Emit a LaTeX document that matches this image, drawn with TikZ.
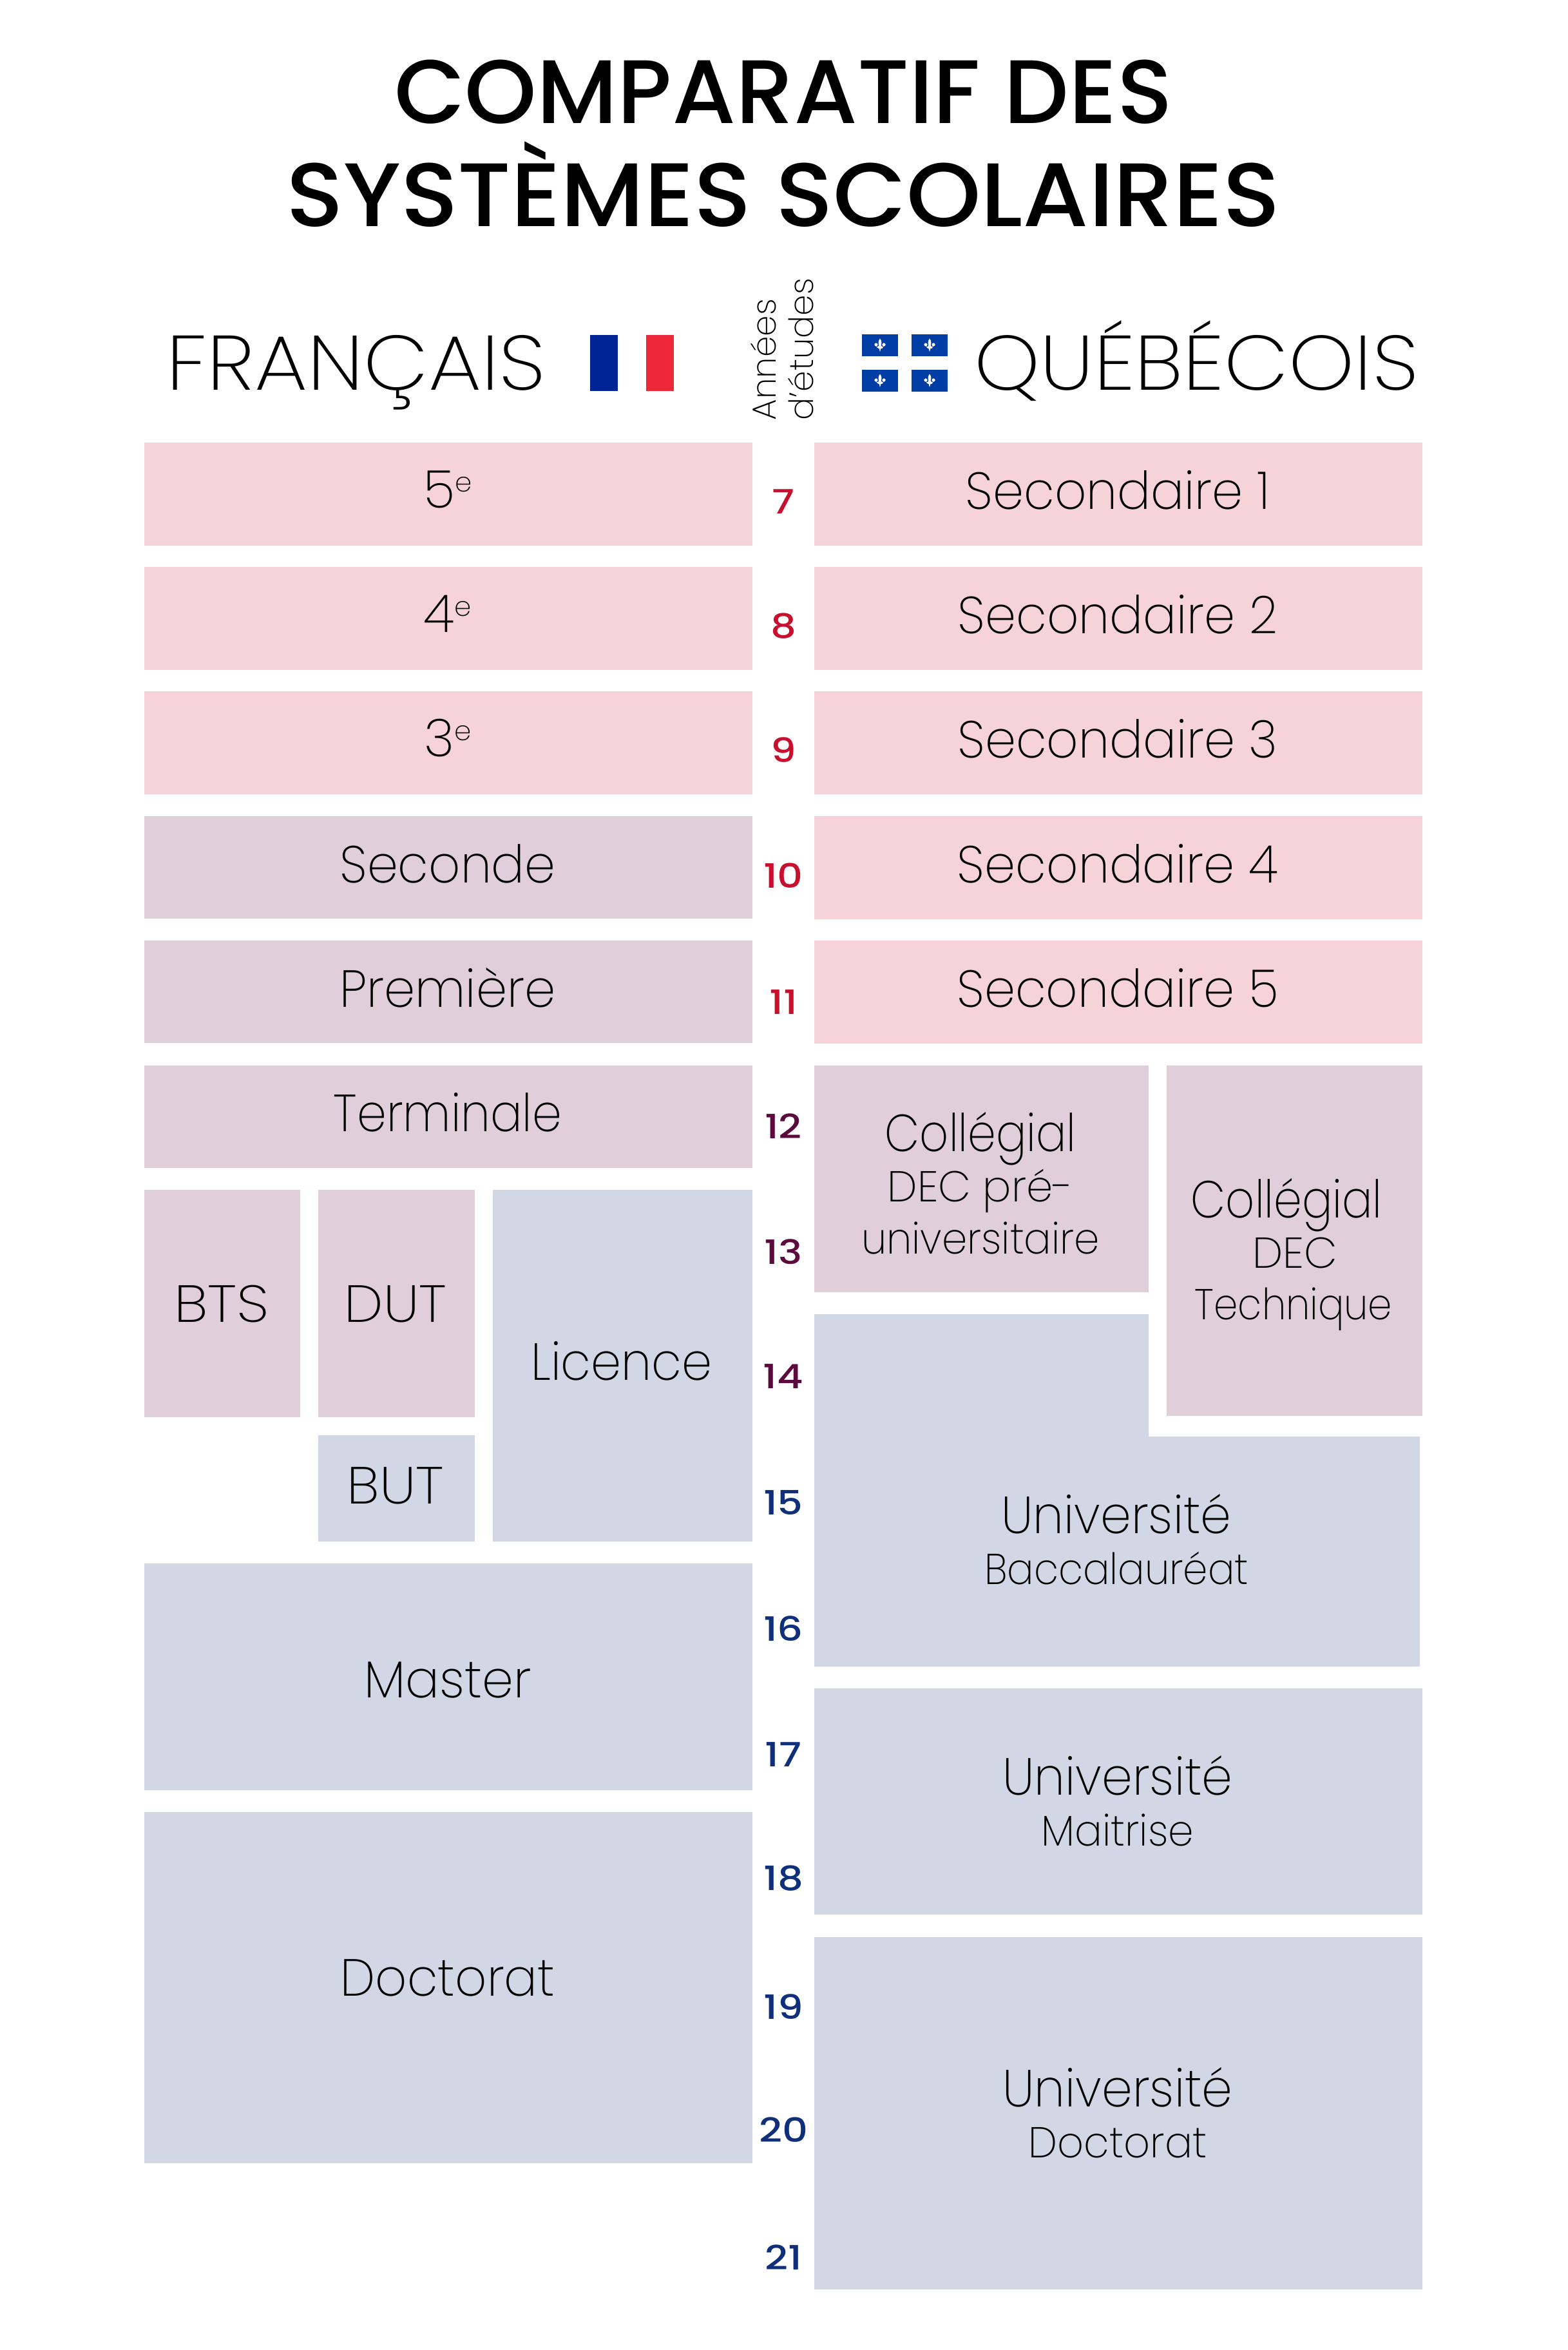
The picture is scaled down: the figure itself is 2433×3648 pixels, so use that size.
\documentclass[tikz,border=0pt]{standalone}
\usepackage{fontspec}
\setmainfont{Poppins}[UprightFont=* ExtraLight,BoldFont=* Medium]
\newfontfamily\numf{Poppins}[UprightFont=* Medium]
\definecolor{pinkbox}{HTML}{F5D3D8}
\definecolor{mauvebox}{HTML}{E0CFDB}
\definecolor{bluebox}{HTML}{D1D7E4}
\definecolor{numred}{HTML}{C8102E}
\definecolor{numplum}{HTML}{5C0A3E}
\definecolor{numnavy}{HTML}{0F2F7A}
\definecolor{frblue}{HTML}{002395}
\definecolor{frred}{HTML}{ED2939}
\definecolor{qcblue}{HTML}{003DA5}
\newcommand{\sz}[1]{\fontsize{#1}{#1}\selectfont}
\newcommand{\sxx}[2]{\scalebox{#1}[1]{#2}}
\newcommand{\sx}[2]{\scalebox{#1}[1]{#2}}
\newcommand{\supe}{\raisebox{25pt}{\sz{42}e}}
\tikzset{
  txt/.style={anchor=base,inner sep=0pt,outer sep=0pt,align=center},
  big/.style={txt,font=\sz{81}},
  small/.style={txt,font=\sz{67}},
  head/.style={txt,font=\sz{120}},
  ttl/.style={txt,font=\bfseries\sz{140}},
  yr/.style={txt,font=\numf\sz{52}},
  rot/.style={anchor=base west,rotate=90,inner sep=0pt,outer sep=0pt,font=\sz{52}}
}
\newcommand{\qcrect}[2]{%
  \fill[qcblue] (#1,#2) rectangle ++(55.5,33.5);
  \begin{scope}[shift={(#1+27.7,#2+16.7)}]
    \fill[white] (0,-10.5) .. controls (3.4,-6.5) and (2.6,-2) .. (1,2) -- (-1,2) .. controls (-2.6,-2) and (-3.4,-6.5) .. (0,-10.5) -- cycle;
    \fill[white] (-6,-1) circle (2.6);
    \fill[white] (6,-1) circle (2.6);
    \fill[white] (-6,1) .. controls (-4,3) and (-2,3) .. (-1.2,-2) -- (0,3.5) -- (1.2,-2) .. controls (2,3) and (4,3) .. (6,1) -- (4,4) -- (-4,4) -- cycle;
    \fill[white] (-3.5,3.5) rectangle (3.5,5.2);
    \fill[white] (-1.4,5) -- (1.4,5) -- (0,10) -- cycle;
  \end{scope}}
\begin{document}
\begin{tikzpicture}[x=1pt,y=-1pt]
\useasboundingbox (0,0) rectangle (2433,3648);
% title
\node[ttl] (t1) at (1216,191) {\sxx{1.015}{COMPARATIF DES}};
\node[ttl] (t2) at (1216,351) {\sxx{1.05}{SYSTÈMES SCOLAIRES}};
% headers
\node[head] (fr) at (553,605) {\sxx{1.09}{FRANÇAIS}};
\node[head] (qc) at (1857,605) {\sxx{1.08}{QUÉBÉCOIS}};
% flags
\fill[frblue] (916,520) rectangle (959,607);
\fill[frred] (1003,520) rectangle (1046,607);
\qcrect{1338.3}{519.3}
\qcrect{1415.3}{519.3}
\qcrect{1338.3}{574.3}
\qcrect{1415.3}{574.3}
\node[rot] (an) at (1204,652) {Années};
\node[rot] (et) at (1262,652) {d'études};
% left column boxes
\foreach \y in {687,880,1073} \fill[pinkbox] (224,\y) rectangle (1168,\y+160);
\foreach \y in {1267,1460,1654} \fill[mauvebox] (224,\y) rectangle (1168,\y+159);
\fill[mauvebox] (224,1847) rectangle (466,2200);
\fill[mauvebox] (494,1847) rectangle (737,2200);
\fill[bluebox] (494,2228) rectangle (737,2393);
\fill[bluebox] (765,1847) rectangle (1168,2393);
\fill[bluebox] (224,2427) rectangle (1168,2779);
\fill[bluebox] (224,2813) rectangle (1168,3358);
% right column boxes
\foreach \y in {687,880,1073,1267,1460} \fill[pinkbox] (1264,\y) rectangle (2208,\y+160);
\fill[mauvebox] (1264,1654) rectangle (1783,2006);
\fill[mauvebox] (1811,1654) rectangle (2208,2198);
\fill[bluebox] (1264,2040) -- (1783,2040) -- (1783,2230) -- (2204,2230) -- (2204,2587) -- (1264,2587) -- cycle;
\fill[bluebox] (1264,2621) rectangle (2208,2972);
\fill[bluebox] (1264,3007) rectangle (2208,3554);
% left labels
\node[big] (l5) at (695,788) {5\supe};
\node[big] (l4) at (695,981) {4\supe};
\node[big] (l3) at (695,1174) {3\supe};
\node[big] (lsec) at (695,1370) {\sx{.947}{Seconde}};
\node[big] (lpre) at (695,1563) {\sx{.954}{Première}};
\node[big] (lter) at (695,1756) {\sx{.906}{Terminale}};
\node[big] (lbts) at (344,2052) {\sx{1.12}{BTS}};
\node[big] (ldut) at (614,2052) {\sx{1.06}{DUT}};
\node[big] (lbut) at (614,2334) {\sx{1.08}{BUT}};
\node[big] (llic) at (965,2142) {\sx{.93}{Licence}};
\node[big] (lmas) at (695,2635) {\sx{.966}{Master}};
\node[big] (ldoc) at (695,3098) {\sx{.947}{Doctorat}};
% right labels
\node[big] (r1) at (1735,790) {\sx{.95}{Secondaire 1}};
\node[big] (r2) at (1735,983) {\sx{.95}{Secondaire 2}};
\node[big] (r3) at (1735,1176) {\sx{.95}{Secondaire 3}};
\node[big] (r4) at (1735,1370) {\sx{.95}{Secondaire 4}};
\node[big] (r5) at (1735,1563) {\sx{.95}{Secondaire 5}};
\node[big] (c1) at (1522,1787) {\sx{.866}{Collégial}};
\node[small] (c1a) at (1522,1865) {\sx{.985}{DEC pré-}};
\node[small] (c1b) at (1522,1946) {\sx{.94}{universitaire}};
\node[big] (c2) at (1997,1890) {\sx{.866}{Collégial}};
\node[small] (c2a) at (2010,1968) {DEC};
\node[small] (c2b) at (2008,2048) {\sx{.893}{Technique}};
\node[big] (u1) at (1733,2380) {\sx{.945}{Université}};
\node[small] (u1a) at (1733,2459) {\sx{.917}{Baccalauréat}};
\node[big] (u2) at (1735,2786) {\sx{.945}{Université}};
\node[small] (u2a) at (1735,2865) {\sx{.945}{Maitrise}};
\node[big] (u3) at (1735,3270) {\sx{.945}{Université}};
\node[small] (u3a) at (1735,3349) {\sx{.952}{Doctorat}};
% years
\foreach \n/\yy/\c in {7/797/numred,8/990/numred,9/1183/numred,10/1378/numred,11/1574/numred,12/1767/numplum,13/1962/numplum,14/2155/numplum,15/2351/numnavy,16/2547/numnavy,17/2742/numnavy,18/2934/numnavy,19/3134/numnavy,20/3325/numnavy,21/3523/numnavy}
  \node[yr,text=\c] (y\n) at (1216,\yy) {\sxx{1.2}{\n}};
\end{tikzpicture}
\end{document}
